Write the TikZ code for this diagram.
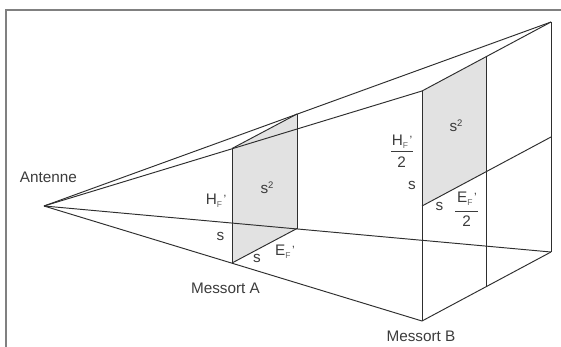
\documentclass[tikz,border=0pt]{standalone}
\usepackage{fontspec}
\setmainfont{Liberation Sans}
\definecolor{txt}{HTML}{3C3C3C}
\definecolor{subc}{HTML}{6A6A6A}
\definecolor{fillg}{HTML}{E2E2E2}
\definecolor{lin}{HTML}{2E2E2E}
\definecolor{frm}{HTML}{808080}
\newcommand{\Sb}[1]{\raisebox{-2.6pt}{\fontsize{8.5}{8.5}\selectfont\color{subc}#1}}
\newcommand{\Sp}[1]{\raisebox{5pt}{\fontsize{9.5}{9.5}\selectfont #1}}
\newcommand{\Prm}{\hspace{1.5pt}\raisebox{1pt}{\fontsize{12}{12}\selectfont '}}
\begin{document}
\begin{tikzpicture}[x=1pt,y=-1pt,
  wire/.style={draw=lin,line width=0.95pt,line join=round},
  face/.style={fill=fillg,draw=none},
  frameline/.style={draw=frm,line width=2pt},
  lab/.style={text=txt,inner sep=0pt,outer sep=0pt,font=\fontsize{15.3}{15.3}\selectfont,anchor=center}]
\useasboundingbox (0,0) rectangle (561,347);
\fill[white] (0,0) rectangle (561,347);
\coordinate (fa) at (6.3,347);
\coordinate (fb) at (6.3,10.3);
\coordinate (fc) at (561,10.3);
\draw[frameline] (fa) -- (fb) -- (fc);
% points
\coordinate (ant) at (44,206);
\coordinate (atl) at (232,148.5);
\coordinate (atr) at (297,114);
\coordinate (abl) at (232,263);
\coordinate (abr) at (297,228.5);
\coordinate (btl) at (422,91);
\coordinate (btr) at (486.5,57);
\coordinate (bml) at (422,206);
\coordinate (bmr) at (486.5,172);
\coordinate (bbl) at (422,321);
\coordinate (bbr) at (486.5,287);
\coordinate (ctop) at (551,22);
\coordinate (cmid) at (551,137);
\coordinate (cbot) at (551,252);
% shaded squares
\path[face] (atl) -- (atr) -- (abr) -- (abl) -- cycle;
\path[face] (btl) -- (btr) -- (bmr) -- (bml) -- cycle;
% rays
\draw[wire] (ant) -- (ctop);
\draw[wire] (ant) -- (btl);
\draw[wire] (ant) -- (cbot);
\draw[wire] (ant) -- (bbl);
% cross lines
\draw[wire] (btl) -- (ctop);
\draw[wire] (atl) -- (atr);
\draw[wire] (abl) -- (abr);
\draw[wire] (bbl) -- (cbot);
\draw[wire] (bml) -- (cmid);
% verticals
\draw[wire] (atl) -- (abl);
\draw[wire] (atr) -- (abr);
\draw[wire] (btl) -- (bbl);
\draw[wire] (btr) -- (bbr);
\draw[wire] (ctop) -- (cbot);
% labels
\node[lab] (antenne) at (48.5,177) {Antenne};
\node[lab] (messa) at (225.5,288) {Messort A};
\node[lab] (messb) at (421,336) {Messort B};
\node[lab] (hfa) at (216,201) {H\Sb{F}\Prm};
\node[lab] (s2a) at (267,188) {s\Sp{2}};
\node[lab] (sa1) at (220.5,236) {s};
\node[lab] (sa2) at (257,258) {s};
\node[lab] (efa) at (285,252) {E\Sb{F}\Prm};
\node[lab] (hfb) at (402,142) {H\Sb{F}\Prm};
\node[lab] (twob) at (401.5,162) {2};
\coordinate (hbarl) at (391,151);
\coordinate (hbarr) at (413,151);
\draw[draw=txt,line width=0.8pt] (hbarl) -- (hbarr);
\node[lab] (sb1) at (412,185) {s};
\node[lab] (s2b) at (456,126) {s\Sp{2}};
\node[lab] (sb2) at (439.5,206) {s};
\node[lab] (efb) at (467,199) {E\Sb{F}\Prm};
\node[lab] (twoe) at (466.5,221.5) {2};
\coordinate (ebarl) at (455,211);
\coordinate (ebarr) at (478,211);
\draw[draw=txt,line width=0.8pt] (ebarl) -- (ebarr);
\end{tikzpicture}
\end{document}
